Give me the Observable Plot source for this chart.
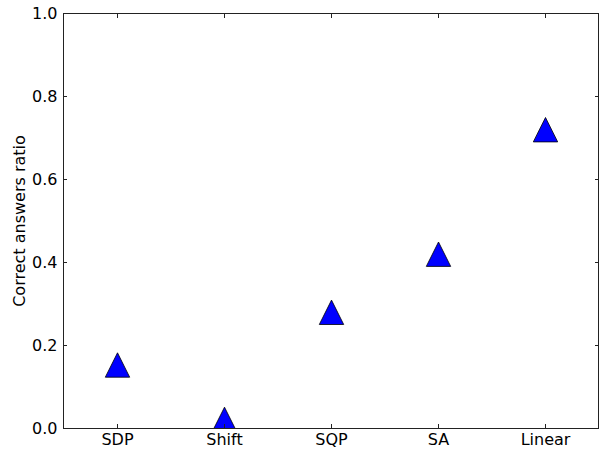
<!DOCTYPE html>
<html>
<head>
<meta charset="utf-8">
<script src="https://cdn.jsdelivr.net/npm/d3@7"></script>
<script src="https://cdn.jsdelivr.net/npm/@observablehq/plot@0.6"></script>
<style>
  html, body { margin: 0; padding: 0; background: #fff; }
</style>
</head>
<body>
<div id="chart"></div>
<script>
const methods = ["SDP", "Shift", "SQP", "SA", "Linear"];
const ratios = [0.153, 0.022, 0.28, 0.42, 0.72];
const yTicks = [0.0, 0.2, 0.4, 0.6, 0.8, 1.0];

const data = methods.map((m, i) => ({method: m, ratio: ratios[i]}));

// matplotlib-style "^" marker: triangle centred on its bounding box
const triangleUp = {
  draw(context, size) {
    const s = Math.sqrt(size / Math.PI);
    context.moveTo(0, -s);
    context.lineTo(s, s);
    context.lineTo(-s, s);
    context.closePath();
  }
};

const noText = () => "";
const FS = 16;

const chart = Plot.plot({
  width: 600,
  height: 450,
  marginLeft: 63,
  marginRight: 2,
  marginTop: 13,
  marginBottom: 22,
  style: {fontFamily: "DejaVu Sans", fontSize: FS + "px", color: "black", background: "white"},
  x: {type: "point", domain: methods, padding: 0.5, label: null},
  y: {domain: [0, 1], label: null},
  marks: [
    Plot.dot(data, {x: "method", y: "ratio", symbol: triangleUp, r: 12.2, fill: "#0000ff", stroke: "black", strokeWidth: 0.8, clip: true}),
    Plot.frame({stroke: "#222", strokeWidth: 1}),
    // labels
    Plot.axisY({ticks: yTicks, tickFormat: d3.format(".1f"), tickSize: 0, tickPadding: 6, fontSize: FS,
      label: "Correct answers ratio", labelAnchor: "center", labelOffset: 50, labelArrow: "none"}),
    Plot.axisX({tickSize: 0, tickPadding: 5, fontSize: FS, label: null}),
    // inward ticks on all four sides
    Plot.axisY({ticks: yTicks, tickSize: -4, tickFormat: noText, label: null, stroke: "#222"}),
    Plot.axisY({anchor: "right", ticks: yTicks, tickSize: -4, tickFormat: noText, label: null, stroke: "#222"}),
    Plot.axisX({tickSize: -4, tickFormat: noText, label: null, stroke: "#222"}),
    Plot.axisX({anchor: "top", tickSize: -4, tickFormat: noText, label: null, stroke: "#222"})
  ]
});
document.getElementById("chart").appendChild(chart);
</script>
</body>
</html>
